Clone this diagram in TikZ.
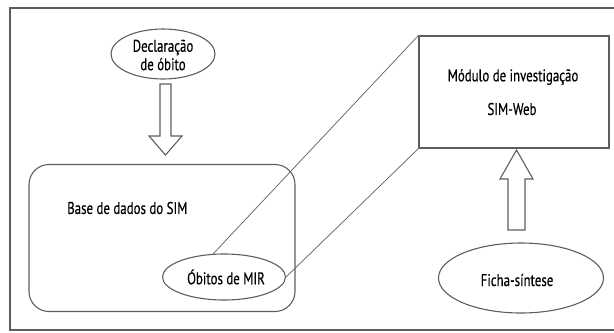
\documentclass[tikz,border=0pt]{standalone}
\usepackage{fontspec}
\setmainfont{PT Sans}[FakeStretch=0.76,FakeBold=0.4]
\usetikzlibrary{shapes.geometric}
\definecolor{ln}{HTML}{5E5E5E}
\tikzset{
  shp/.style={draw=ln, line width=1.1bp},
  ell/.style={shp, ellipse, inner sep=0pt},
  txt/.style={font=\fontsize{17}{18.5}\selectfont, text=black, inner sep=0pt},
  thin/.style={draw=ln, line width=0.7bp}
}
\begin{document}
\begin{tikzpicture}[x=1bp,y=-1bp]
\useasboundingbox (0,0) rectangle (614,332);
% frame (open at right)
\draw[shp] (614,8) -- (10,8) -- (10,330) -- (614,330);
% nodes
\node[ell, minimum width=104bp, minimum height=50bp] (decl) at (163,54) {};
\node[txt, align=center] (decltxt) at (163,55) {Declaração\\de óbito};
\node[shp, rounded corners=20bp, minimum width=266bp, minimum height=147bp, inner sep=0pt] (base) at (162,238) {};
\node[txt, anchor=west] (basetxt) at (67,208) {Base de dados do SIM};
\node[ell, minimum width=123bp, minimum height=46bp] (obit) at (224,277) {};
\node[txt] (obittxt) at (226,277) {Óbitos de MIR};
\node[shp, minimum width=190bp, minimum height=112bp, inner sep=0pt] (mod) at (514,92) {};
\node[txt] (modtxt) at (513,77) {Módulo de investigação};
\node[txt] (simweb) at (512,109) {SIM-Web};
\node[ell, minimum width=165bp, minimum height=70bp] (ficha) at (521,278) {};
\node[txt] (fichatxt) at (517,280) {Ficha-síntese};
% block arrows
\draw[shp, line join=miter] (160,84) -- (171,84) -- (171,136) -- (182,136) -- (165.5,155) -- (149,136) -- (160,136) -- cycle;
\draw[shp, line join=miter] (508,230) -- (525,230) -- (525,179) -- (533,179) -- (516.5,150) -- (500,179) -- (508,179) -- cycle;
% zoom lines
\draw[thin] (obit.115) -- (mod.north west);
\draw[thin] (obit.east) -- (mod.south west);
\end{tikzpicture}
\end{document}
